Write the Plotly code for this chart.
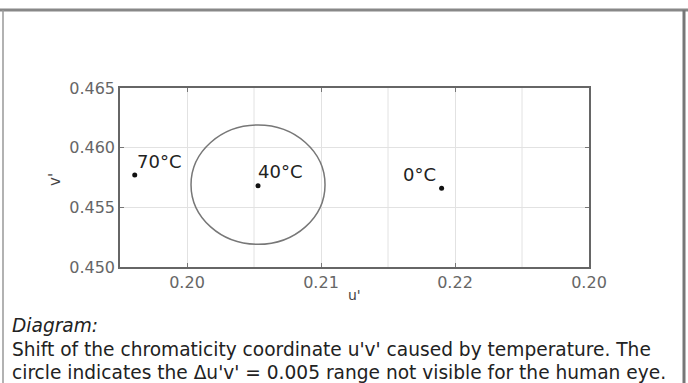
import plotly.graph_objects as go

# Data
labels = ["70°C", "40°C", "0°C"]
u_vals = [0.1961, 0.2053, 0.2190]
v_vals = [0.4577, 0.4568, 0.4566]
circle_center = (0.2053, 0.4569)
circle_radius = 0.005
x_tickvals = [0.20, 0.21, 0.22, 0.23]
x_ticktext = ["0.20", "0.21", "0.22", "0.20"]
y_tickvals = [0.450, 0.455, 0.460, 0.465]
y_ticktext = ["0.450", "0.455", "0.460", "0.465"]

W, H = 688, 383
L, R, T, B = 120, 99, 88, 116
pw, ph = W - L - R, H - T - B
FAM = "DejaVu Sans, Arial"

def px(xp):
    return (xp - L) / pw

def py(yp):
    return (H - B - yp) / ph

fig = go.Figure()
fig.add_trace(go.Scatter(
    x=u_vals, y=v_vals, mode="markers",
    marker=dict(color="#111", size=5),
    showlegend=False, hoverinfo="skip"))

positions = [("left", "bottom", 1, 2), ("left", "bottom", -1, 3), ("right", "bottom", -5, 2)]
for lab, u, v, (xa, ya, xs, ys) in zip(labels, u_vals, v_vals, positions):
    fig.add_annotation(x=u, y=v, text=lab, showarrow=False, xanchor=xa, yanchor=ya,
                       xshift=xs, yshift=ys, borderpad=0,
                       font=dict(family=FAM, size=18, color="#222"))

cu, cv = circle_center
fig.add_shape(type="circle", xref="x", yref="y",
              x0=cu - circle_radius, x1=cu + circle_radius,
              y0=cv - circle_radius, y1=cv + circle_radius,
              line=dict(color="#777", width=1.5))

axis_common = dict(showgrid=True, gridcolor="#e2e2e2", gridwidth=1,
                   showline=True, linecolor="#666", linewidth=1.5, mirror="ticks",
                   ticks="inside", ticklen=4, tickcolor="#777", zeroline=False,
                   tickfont=dict(family=FAM, size=16, color="#666"))

fig.update_xaxes(range=[0.195, 0.23], tickvals=x_tickvals, ticktext=x_ticktext, **axis_common)
fig.update_yaxes(range=[0.450, 0.465], tickvals=y_tickvals, ticktext=y_ticktext, **axis_common)

# additional vertical gridlines every 0.005 on x
for g in [0.205, 0.215, 0.225]:
    fig.add_shape(type="line", xref="x", yref="paper", x0=g, x1=g, y0=0, y1=1,
                  line=dict(color="#e2e2e2", width=1), layer="below")

font = dict(family=FAM, size=18.6, color="#222")
fig.add_annotation(xref="paper", yref="paper", x=px(44), y=py(180), text="v'",
                   showarrow=False, textangle=-90, font=dict(family=FAM, size=15, color="#444"))
fig.add_annotation(xref="paper", yref="paper", x=px(354), y=py(305), text="u'",
                   showarrow=False, font=dict(family=FAM, size=14, color="#444"))
fig.add_annotation(xref="paper", yref="paper", x=px(10), y=py(325), text="<i>Diagram:</i>",
                   showarrow=False, xanchor="left", yanchor="middle", font=font)
fig.add_annotation(xref="paper", yref="paper", x=px(10), y=py(349),
                   text="Shift of the chromaticity coordinate u'v' caused by temperature. The",
                   showarrow=False, xanchor="left", yanchor="middle", font=font)
fig.add_annotation(xref="paper", yref="paper", x=px(10), y=py(372),
                   text="circle indicates the Δu'v' = 0.005 range not visible for the human eye.",
                   showarrow=False, xanchor="left", yanchor="middle", font=font)

# outer frame lines
fig.add_shape(type="line", xref="paper", yref="paper", x0=px(0), x1=px(688), y0=py(10), y1=py(10),
              line=dict(color="#888", width=3))
fig.add_shape(type="line", xref="paper", yref="paper", x0=px(3), x1=px(3), y0=py(10), y1=py(383),
              line=dict(color="#999", width=1.5))
fig.add_shape(type="line", xref="paper", yref="paper", x0=px(684), x1=px(684), y0=py(10), y1=py(383),
              line=dict(color="#777", width=3))

fig.update_layout(width=W, height=H, margin=dict(l=L, r=R, t=T, b=B),
                  paper_bgcolor="white", plot_bgcolor="white", showlegend=False)

fig.write_html("out.html", config={"displayModeBar": False},
               post_script="document.body.style.margin='0';document.body.style.overflow='hidden';")
